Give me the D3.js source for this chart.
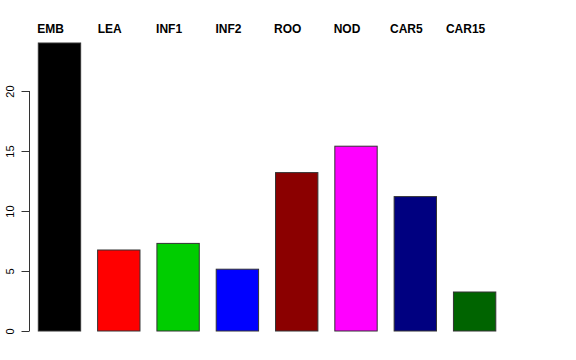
<!DOCTYPE html>
<html>
<head>
<meta charset="utf-8">
<script src="https://cdn.jsdelivr.net/npm/d3@7"></script>
<style>
body { margin: 0; background: #fff; }
svg { display: block; font-family: "Liberation Sans", Arial, Helvetica, sans-serif; }
</style>
</head>
<body>
<div id="chart"></div>
<script>
const categories = ["EMB", "LEA", "INF1", "INF2", "ROO", "NOD", "CAR5", "CAR15"]
const values = [24.0, 6.75, 7.3, 5.15, 13.2, 15.4, 11.2, 3.25]
const barColors = ["#000000", "#FF0000", "#00CD00", "#0000FF", "#8B0000", "#FF00FF", "#000080", "#006400"]
const yTicks = [0, 5, 10, 15, 20]

const width = 576, height = 360

const svg = d3.select("#chart").append("svg")
	.attr("width", width)
	.attr("height", height)

const x = d3.scaleBand()
	.domain(categories)
	.range([38.3, 495.8])
	.paddingInner(0.4 / 1.4)
	.paddingOuter(0)

const y = d3.scaleLinear()
	.domain([0, 24])
	.range([331, 43])

// bars
svg.selectAll("rect.bar").data(categories).enter().append("rect")
	.attr("class", "bar")
	.attr("x", d => x(d))
	.attr("y", (d, i) => y(values[i]))
	.attr("width", x.bandwidth())
	.attr("height", (d, i) => y(0) - y(values[i]))
	.style("fill", (d, i) => barColors[i])
	.style("stroke", "#333")
	.style("stroke-width", 1)

// labels on top
svg.selectAll("text.cat").data(categories).enter().append("text")
	.attr("class", "cat")
	.attr("x", d => x(d) + x.bandwidth() / 2 - 9)
	.attr("y", 33)
	.attr("text-anchor", "middle")
	.style("font-weight", "bold")
	.style("font-size", "12px")
	.text(d => d)

// y axis, R style
const axis = svg.append("g")
	.attr("transform", "translate(29.5,0)")
	.call(d3.axisLeft(y).tickValues(yTicks).tickSize(8).tickSizeOuter(0))

axis.select(".domain").attr("stroke", "#333").attr("d", "M0," + y(0) + "V" + y(20))
axis.selectAll(".tick line").attr("stroke", "#333")
axis.selectAll(".tick text")
	.attr("transform", "rotate(-90)")
	.attr("x", 0)
	.attr("y", -15.5)
	.attr("dy", 0)
	.attr("text-anchor", "middle")
	.style("font-size", "11px")
	.style("font-family", "Liberation Sans, Arial, sans-serif")
	.attr("fill", "#000")
</script>
</body>
</html>
